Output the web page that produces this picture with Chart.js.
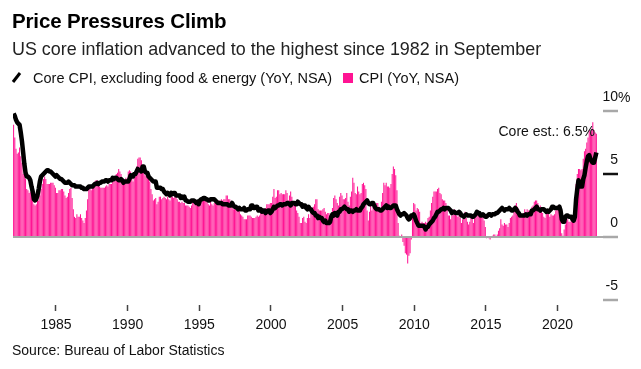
<!DOCTYPE html>
<html>
<head>
<meta charset="utf-8">
<script src="https://cdn.jsdelivr.net/npm/chart.js@4.4.1/dist/chart.umd.min.js"></script>
<style>
  body { margin: 0; background: #fff; }
  #page { position: relative; width: 641px; height: 369px; overflow: hidden;
          font-family: "Liberation Sans", Arial, sans-serif; color: #111; }
  #chart { position: absolute; left: 0; top: 0; }
  .t { position: absolute; white-space: nowrap; line-height: 1; }
  #title { left: 12px; top: 11px; font-size: 20.5px; font-weight: bold; color: #000; letter-spacing: -0.15px; }
  #subtitle { left: 12px; top: 41px; font-size: 17.9px; color: #222; }
  #legend { left: 11px; top: 70px; font-size: 14.5px; }
  #legend span { display: inline-block; vertical-align: middle; }
  .swatch { width: 10px; height: 10px; background: #ff1493; margin: 0 6px 0 11px; }
  #note { right: 46px; top: 124px; font-size: 14px; }
  #pct { left: 618px; top: 90px; font-size: 14px; }
  #source { left: 12px; top: 343px; font-size: 14px; }
</style>
</head>
<body>
<div id="page">
  <canvas id="chart" width="641" height="369"></canvas>
  <div class="t" id="title">Price Pressures Climb</div>
  <div class="t" id="subtitle">US core inflation advanced to the highest since 1982 in September</div>
  <div class="t" id="legend">
    <span><svg width="12" height="14"><line x1="2" y1="12" x2="9" y2="3" stroke="#000" stroke-width="3"/></svg></span>
    <span style="margin-left:6px">Core CPI, excluding food &amp; energy (YoY, NSA)</span><span class="swatch"></span><span>CPI (YoY, NSA)</span>
  </div>
  <div class="t" id="note">Core est.: 6.5%</div>
  <div class="t" id="pct">%</div>
  <div class="t" id="source">Source: Bureau of Labor Statistics</div>
</div>
<script>
// Datos mensuales desde enero de 1982 hasta septiembre de 2022
const startYear = 1982;

// CPI (YoY, NSA) - una fila por año
const cpi = [
  8.9, 7.9, 7.0, 6.6, 6.7, 7.1, 6.4, 5.9, 5.0, 5.1, 4.6, 3.8,
  3.7, 3.5, 3.6, 3.9, 3.5, 2.6, 2.5, 2.6, 2.9, 2.9, 3.3, 3.8,
  4.2, 4.6, 4.8, 4.6, 4.2, 4.2, 4.2, 4.3, 4.3, 4.3, 4.1, 3.9,
  3.5, 3.5, 3.7, 3.7, 3.8, 3.8, 3.6, 3.3, 3.1, 3.2, 3.5, 3.8,
  3.9, 3.1, 2.2, 1.6, 1.5, 1.8, 1.6, 1.6, 1.8, 1.5, 1.3, 1.1,
  1.5, 2.1, 3.0, 3.8, 3.9, 3.7, 3.9, 4.3, 4.4, 4.5, 4.5, 4.4,
  4.0, 3.9, 3.9, 3.9, 3.9, 4.0, 4.1, 4.0, 4.2, 4.2, 4.2, 4.4,
  4.7, 4.8, 5.0, 5.1, 5.4, 5.2, 5.0, 4.7, 4.3, 4.5, 4.7, 4.6,
  5.2, 5.3, 5.2, 4.7, 4.4, 4.7, 4.8, 5.6, 6.2, 6.3, 6.3, 6.1,
  5.7, 5.3, 4.9, 4.9, 5.0, 4.7, 4.4, 3.8, 3.4, 2.9, 3.0, 3.1,
  2.6, 2.8, 3.2, 3.2, 3.0, 3.1, 3.2, 3.1, 3.0, 3.2, 3.0, 2.9,
  3.3, 3.2, 3.1, 3.2, 3.2, 3.0, 2.8, 2.8, 2.7, 2.8, 2.7, 2.7,
  2.5, 2.5, 2.5, 2.4, 2.3, 2.5, 2.8, 2.9, 3.0, 2.6, 2.7, 2.7,
  2.8, 2.9, 2.9, 3.1, 3.2, 3.0, 2.8, 2.6, 2.5, 2.8, 2.6, 2.5,
  2.7, 2.7, 2.8, 2.9, 2.9, 2.8, 3.0, 2.9, 3.0, 3.0, 3.3, 3.3,
  3.0, 3.0, 2.8, 2.5, 2.2, 2.3, 2.2, 2.2, 2.2, 2.1, 1.8, 1.7,
  1.6, 1.4, 1.4, 1.4, 1.7, 1.7, 1.7, 1.6, 1.5, 1.5, 1.5, 1.6,
  1.7, 1.6, 1.7, 2.3, 2.1, 2.0, 2.1, 2.3, 2.6, 2.6, 2.6, 2.7,
  2.7, 3.2, 3.8, 3.1, 3.2, 3.7, 3.7, 3.4, 3.5, 3.4, 3.4, 3.4,
  3.7, 3.5, 2.9, 3.3, 3.6, 3.2, 2.7, 2.7, 2.6, 2.1, 1.9, 1.6,
  1.1, 1.1, 1.5, 1.6, 1.2, 1.1, 1.5, 1.8, 1.5, 2.0, 2.2, 2.4,
  2.6, 3.0, 3.0, 2.2, 2.1, 2.1, 2.1, 2.2, 2.3, 2.0, 1.8, 1.9,
  1.9, 1.7, 1.7, 2.3, 3.1, 3.3, 3.0, 2.7, 2.5, 3.2, 3.5, 3.3,
  3.0, 3.0, 3.1, 3.5, 2.8, 2.5, 3.2, 3.6, 4.7, 4.3, 3.5, 3.4,
  4.0, 3.6, 3.4, 3.5, 4.2, 4.3, 4.1, 3.8, 2.1, 1.3, 2.0, 2.5,
  2.1, 2.4, 2.8, 2.6, 2.7, 2.7, 2.4, 2.0, 2.8, 3.5, 4.3, 4.1,
  4.3, 4.0, 4.0, 3.9, 4.2, 5.0, 5.6, 5.4, 4.9, 3.7, 1.1, 0.1,
  0.0, 0.2, -0.4, -0.7, -1.3, -1.4, -2.1, -1.5, -1.3, -0.2, 1.8, 2.7,
  2.6, 2.1, 2.3, 2.2, 2.0, 1.1, 1.2, 1.1, 1.1, 1.2, 1.1, 1.5,
  1.6, 2.1, 2.7, 3.2, 3.6, 3.6, 3.6, 3.8, 3.9, 3.5, 3.4, 3.0,
  2.9, 2.9, 2.7, 2.3, 1.7, 1.7, 1.4, 1.7, 2.0, 2.2, 1.8, 1.7,
  1.6, 2.0, 1.5, 1.1, 1.4, 1.8, 2.0, 1.5, 1.2, 1.0, 1.2, 1.5,
  1.6, 1.1, 1.5, 2.0, 2.1, 2.1, 2.0, 1.7, 1.7, 1.7, 1.3, 0.8,
  -0.1, 0.0, -0.1, -0.2, 0.0, 0.1, 0.2, 0.2, 0.0, 0.2, 0.5, 0.7,
  1.4, 1.0, 0.9, 1.1, 1.0, 1.0, 0.8, 1.1, 1.5, 1.6, 1.7, 2.1,
  2.5, 2.7, 2.4, 2.2, 1.9, 1.6, 1.7, 1.9, 2.2, 2.0, 2.2, 2.1,
  2.1, 2.2, 2.4, 2.5, 2.8, 2.9, 2.9, 2.7, 2.3, 2.5, 2.2, 1.9,
  1.6, 1.5, 1.9, 2.0, 1.8, 1.6, 1.8, 1.7, 1.7, 1.8, 2.1, 2.3,
  2.5, 2.3, 1.5, 0.3, 0.1, 0.6, 1.0, 1.3, 1.4, 1.2, 1.2, 1.4,
  1.4, 1.7, 2.6, 4.2, 5.0, 5.4, 5.4, 5.3, 5.4, 6.2, 6.8, 7.0,
  7.5, 7.9, 8.5, 8.3, 8.6, 9.1, 8.5, 8.3, 8.2
];

// Core CPI, sin alimentos ni energía (YoY, NSA)
const core = [
  9.8, 9.6, 9.3, 9.1, 9.0, 8.9, 8.3, 7.6, 6.7, 5.8, 5.1, 4.8,
  4.8, 4.7, 4.5, 4.0, 3.6, 3.0, 2.9, 3.0, 3.3, 3.8, 4.4, 4.8,
  4.9, 5.0, 5.1, 5.2, 5.3, 5.3, 5.2, 5.2, 5.1, 5.0, 4.9, 4.8,
  4.9, 4.8, 4.7, 4.6, 4.6, 4.5, 4.4, 4.3, 4.3, 4.3, 4.4, 4.3,
  4.2, 4.1, 4.1, 4.1, 4.0, 4.0, 4.0, 4.0, 4.0, 3.9, 3.9, 3.8,
  3.8, 3.8, 3.9, 4.0, 4.0, 4.0, 4.0, 4.1, 4.2, 4.2, 4.3, 4.2,
  4.3, 4.3, 4.4, 4.4, 4.4, 4.5, 4.5, 4.4, 4.5, 4.5, 4.5, 4.7,
  4.6, 4.7, 4.7, 4.6, 4.5, 4.5, 4.6, 4.5, 4.3, 4.4, 4.4, 4.4,
  4.4, 4.6, 4.9, 4.8, 4.8, 5.0, 5.0, 5.2, 5.4, 5.3, 5.3, 5.2,
  5.6, 5.6, 5.2, 5.1, 5.1, 4.8, 4.7, 4.6, 4.5, 4.4, 4.4, 4.4,
  3.9, 3.9, 3.9, 3.9, 3.8, 3.8, 3.6, 3.5, 3.4, 3.5, 3.4, 3.3,
  3.5, 3.4, 3.5, 3.5, 3.3, 3.3, 3.3, 3.3, 3.1, 3.2, 3.1, 3.2,
  2.9, 2.9, 2.8, 2.8, 2.8, 2.9, 2.9, 2.9, 2.8, 2.7, 2.8, 2.6,
  2.9, 3.0, 3.0, 3.1, 3.1, 3.0, 3.0, 2.9, 2.9, 3.0, 3.0, 3.0,
  3.0, 2.9, 2.8, 2.7, 2.7, 2.7, 2.7, 2.6, 2.6, 2.6, 2.6, 2.6,
  2.5, 2.5, 2.5, 2.7, 2.5, 2.4, 2.4, 2.3, 2.2, 2.3, 2.2, 2.2,
  2.2, 2.3, 2.1, 2.1, 2.2, 2.2, 2.2, 2.5, 2.5, 2.3, 2.3, 2.4,
  2.4, 2.1, 2.1, 2.2, 2.0, 2.1, 2.1, 1.9, 2.0, 2.1, 2.1, 1.9,
  2.0, 2.2, 2.4, 2.3, 2.4, 2.5, 2.5, 2.6, 2.6, 2.5, 2.6, 2.6,
  2.6, 2.7, 2.7, 2.6, 2.5, 2.7, 2.7, 2.7, 2.6, 2.6, 2.8, 2.7,
  2.6, 2.6, 2.4, 2.5, 2.5, 2.3, 2.2, 2.4, 2.2, 2.2, 2.0, 1.9,
  1.9, 1.7, 1.7, 1.5, 1.6, 1.5, 1.5, 1.3, 1.2, 1.3, 1.1, 1.1,
  1.1, 1.2, 1.6, 1.8, 1.7, 1.9, 1.8, 1.7, 2.0, 2.0, 2.2, 2.2,
  2.3, 2.4, 2.3, 2.2, 2.2, 2.0, 2.1, 2.1, 2.0, 2.1, 2.1, 2.2,
  2.1, 2.1, 2.1, 2.3, 2.4, 2.6, 2.7, 2.8, 2.9, 2.7, 2.6, 2.6,
  2.7, 2.7, 2.5, 2.3, 2.2, 2.2, 2.2, 2.1, 2.1, 2.2, 2.3, 2.4,
  2.5, 2.3, 2.4, 2.3, 2.3, 2.4, 2.5, 2.5, 2.5, 2.2, 2.0, 1.8,
  1.7, 1.8, 1.8, 1.9, 1.8, 1.7, 1.5, 1.4, 1.5, 1.7, 1.7, 1.8,
  1.6, 1.3, 1.1, 0.9, 0.9, 0.9, 0.9, 0.9, 0.8, 0.6, 0.8, 0.8,
  1.0, 1.1, 1.2, 1.3, 1.5, 1.6, 1.8, 2.0, 2.0, 2.1, 2.2, 2.2,
  2.3, 2.2, 2.3, 2.3, 2.3, 2.2, 2.1, 1.9, 2.0, 2.0, 1.9, 1.9,
  1.9, 2.0, 1.9, 1.7, 1.7, 1.6, 1.7, 1.8, 1.7, 1.7, 1.7, 1.7,
  1.6, 1.6, 1.7, 1.8, 2.0, 1.9, 1.9, 1.7, 1.7, 1.8, 1.7, 1.6,
  1.6, 1.7, 1.8, 1.8, 1.7, 1.8, 1.8, 1.8, 1.9, 1.9, 2.0, 2.1,
  2.2, 2.3, 2.2, 2.1, 2.2, 2.2, 2.2, 2.3, 2.2, 2.1, 2.1, 2.2,
  2.3, 2.2, 2.0, 1.9, 1.7, 1.7, 1.7, 1.7, 1.7, 1.8, 1.7, 1.8,
  1.8, 1.8, 2.1, 2.1, 2.2, 2.3, 2.4, 2.2, 2.2, 2.1, 2.2, 2.2,
  2.2, 2.1, 2.0, 2.1, 2.0, 2.1, 2.2, 2.4, 2.4, 2.3, 2.3, 2.3,
  2.3, 2.4, 2.1, 1.4, 1.2, 1.2, 1.6, 1.7, 1.7, 1.6, 1.6, 1.6,
  1.4, 1.3, 1.6, 3.0, 3.8, 4.5, 4.3, 4.0, 4.0, 4.6, 4.9, 5.5,
  6.0, 6.4, 6.5, 6.2, 6.0, 5.9, 5.9, 6.3, 6.7
];

const yearTicks = [1985, 1990, 1995, 2000, 2005, 2010, 2015, 2020];
const valueTicks = [-5, 0, 5, 10];

const pink = '#ff1493';
const font = { family: '"Liberation Sans", Arial, sans-serif', size: 14 };

// Posición de cada mes en años decimales (mitad de mes)
const monthX = i => startYear + (i + 0.5) / 12;

const ctx = document.getElementById('chart').getContext('2d');
new Chart(ctx, {
    data: {
        datasets: [
            {
                type: 'line',
                label: 'Core CPI, excluding food & energy (YoY, NSA)',
                data: core.map((v, i) => ({ x: monthX(i), y: v })),
                borderColor: '#000',
                borderWidth: 4.5,
                pointRadius: 0,
                borderJoinStyle: 'round',
                order: 0
            },
            {
                type: 'bar',
                label: 'CPI (YoY, NSA)',
                data: cpi.map((v, i) => ({ x: monthX(i), y: v })),
                backgroundColor: pink,
                barPercentage: 0.86,
                categoryPercentage: 1,
                order: 1
            }
        ]
    },
    options: {
        responsive: false,
        animation: false,
        layout: { padding: { left: 13, top: 111, right: 23, bottom: 0 } },
        plugins: {
            legend: { display: false },
            tooltip: { enabled: false }
        },
        scales: {
            x: {
                type: 'linear',
                offset: false,
                min: 1982,
                max: 2023.17,
                afterBuildTicks: s => { s.ticks = yearTicks.map(v => ({ value: v })); },
                afterFit: s => { s.height = 64; },
                border: { display: false },
                grid: { offset: false, drawOnChartArea: false, tickLength: 6, tickColor: '#444', tickWidth: 1.5 },
                ticks: {
                    autoSkip: false,
                    maxRotation: 0,
                    padding: 6,
                    color: '#111',
                    font: font,
                    callback: v => String(v)
                }
            },
            y: {
                position: 'right',
                min: -5.4,
                max: 10,
                afterBuildTicks: s => { s.ticks = valueTicks.map(v => ({ value: v })); },
                afterFit: s => { s.width = 15; },
                border: { display: false },
                grid: {
                    color: c => (c.tick && c.tick.value === 0) ? '#a8a8a8' : 'rgba(0,0,0,0)',
                    lineWidth: 2,
                    tickLength: 15,
                    tickColor: c => (c.tick && c.tick.value === 5) ? '#111' : '#a8a8a8',
                    tickWidth: 2.5
                },
                ticks: {
                    crossAlign: 'far',
                    padding: 0,
                    labelOffset: -14,
                    color: '#111',
                    font: font,
                    callback: v => String(v)
                }
            }
        }
    }
});
</script>
</body>
</html>
